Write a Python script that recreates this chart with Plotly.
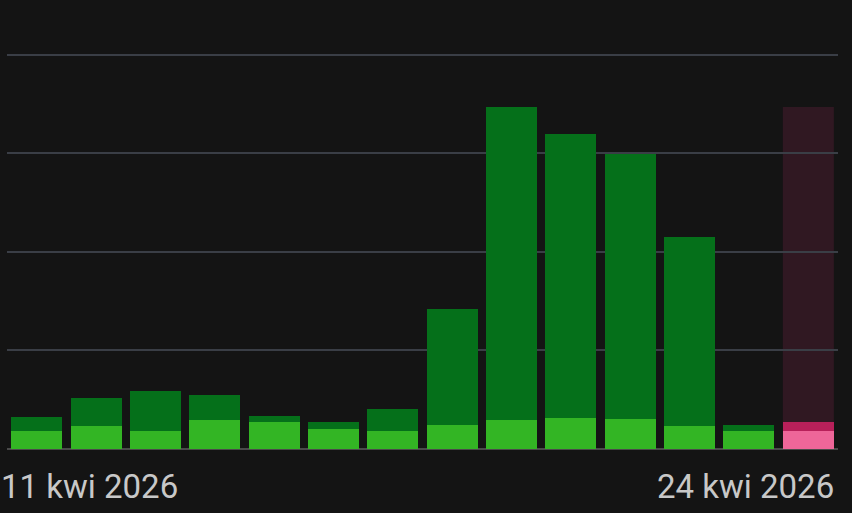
import plotly.graph_objects as go

days = ["11 kwi", "12 kwi", "13 kwi", "14 kwi", "15 kwi", "16 kwi", "17 kwi",
        "18 kwi", "19 kwi", "20 kwi", "21 kwi", "22 kwi", "23 kwi", "24 kwi"]
base_vals = [18, 23, 18, 29, 27, 20, 18, 24, 29, 31, 30, 23, 18, 18]
top_vals = [14, 29, 41, 26, 7, 7, 23, 118, 318, 289, 269, 192, 6, 9]
first_label = "11 kwi 2026"
last_label = "24 kwi 2026"

n = len(days)
base_colors = ["#33b524"] * (n - 1) + ["#ee6699"]
top_colors = ["#05701a"] * (n - 1) + ["#b8205a"]
totals = [a + b for a, b in zip(base_vals, top_vals)]

fig = go.Figure()
fig.add_trace(go.Bar(x=list(range(n)), y=base_vals, marker=dict(color=base_colors, line=dict(width=0))))
fig.add_trace(go.Bar(x=list(range(n)), y=top_vals, marker=dict(color=top_colors, line=dict(width=0))))

fig.add_shape(type="rect", xref="x", yref="y", x0=n - 1 - 0.43, x1=n - 1 + 0.43,
              y0=0, y1=max(totals), fillcolor="#301822", line=dict(width=0), layer="below")

fig.add_annotation(x=0, xref="paper", y=0, yref="paper", yshift=-37, xshift=-8,
                   text=first_label, showarrow=False, xanchor="left", yanchor="middle",
                   font=dict(family="Roboto", size=33, color="#c8c8c8"))
fig.add_annotation(x=1, xref="paper", y=0, yref="paper", yshift=-37, xshift=-2,
                   text=last_label, showarrow=False, xanchor="right", yanchor="middle",
                   font=dict(family="Roboto", size=33, color="#c8c8c8"))

fig.update_layout(
    width=852, height=513,
    barmode="stack", bargap=0.14, showlegend=False,
    paper_bgcolor="#141414", plot_bgcolor="#141414",
    margin=dict(l=7, r=14, t=45, b=64),
    xaxis=dict(showticklabels=False, showgrid=False, zeroline=False,
               range=[-0.5, n - 0.5], fixedrange=True),
    yaxis=dict(range=[0, 410], tickvals=[100, 200, 300, 400], showticklabels=False,
               gridcolor="#3a3e46", gridwidth=2, zeroline=True,
               zerolinecolor="#4a4a4a", zerolinewidth=2),
)

fig.write_html("out.html")
